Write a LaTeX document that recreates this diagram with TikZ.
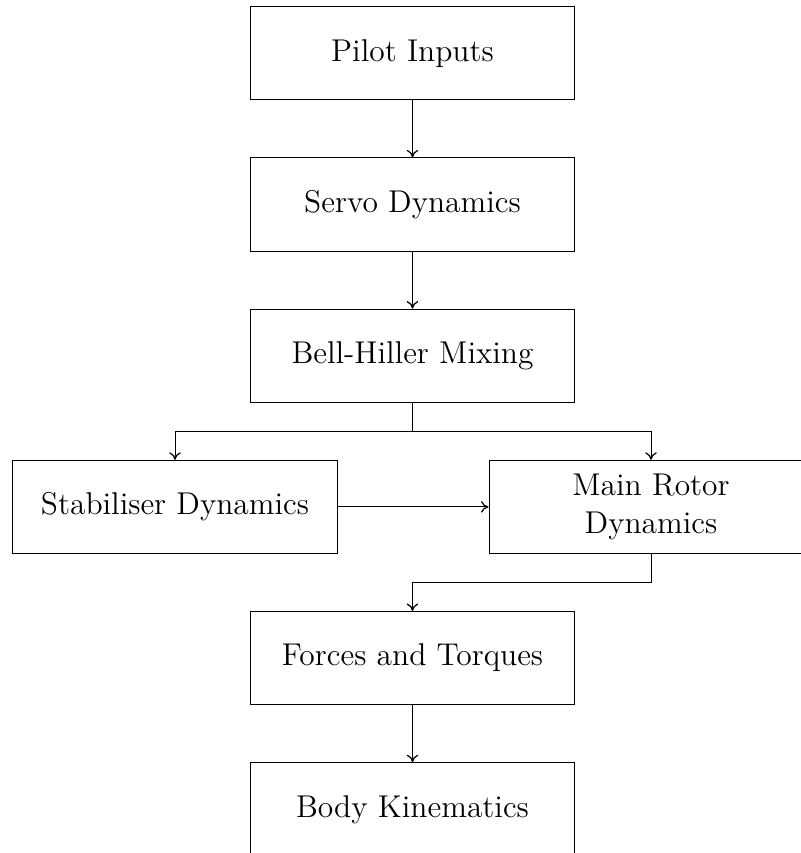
\documentclass[tikz,border=0pt]{standalone}
\usepackage{fontspec}
\usetikzlibrary{arrows.meta}
\begin{document}
\begin{tikzpicture}[x=0.4pt,y=-0.4pt,
  blockbox/.style={draw, line width=0.4pt, minimum width=129.6pt, minimum height=37.3pt, inner sep=0pt, align=center, font=\fontsize{12.6}{15.2}\selectfont},
  conn/.style={-{To[length=3pt,width=4.6pt,line width=0.5pt]}, line width=0.4pt}]
\useasboundingbox (0,0) rectangle (800,853);
\node[blockbox] (pilot) at (412.5,53.3) {Pilot Inputs};
\node[blockbox] (servo) at (412.5,204.5) {Servo Dynamics};
\node[blockbox] (bell) at (412.5,355.7) {Bell-Hiller Mixing};
\node[blockbox] (stab) at (175,506.9) {Stabiliser Dynamics};
\node[blockbox] (main) at (651,506.9) {Main Rotor\\Dynamics};
\node[blockbox] (forces) at (412.5,658.1) {Forces and Torques};
\node[blockbox] (body) at (412.5,809.3) {Body Kinematics};
\coordinate (split) at (412.5,431.5);
\coordinate (join) at (412.5,582.6);
\draw[conn] (pilot) -- (servo);
\draw[conn] (servo) -- (bell);
\draw[line width=0.4pt] (bell.south) -- (split);
\draw[conn] (split) -| (stab.north);
\draw[conn] (split) -| (main.north);
\draw[conn] (stab) -- (main);
\draw[conn] (main.south) |- (join) -- (forces.north);
\draw[conn] (forces) -- (body);
\end{tikzpicture}
\end{document}
